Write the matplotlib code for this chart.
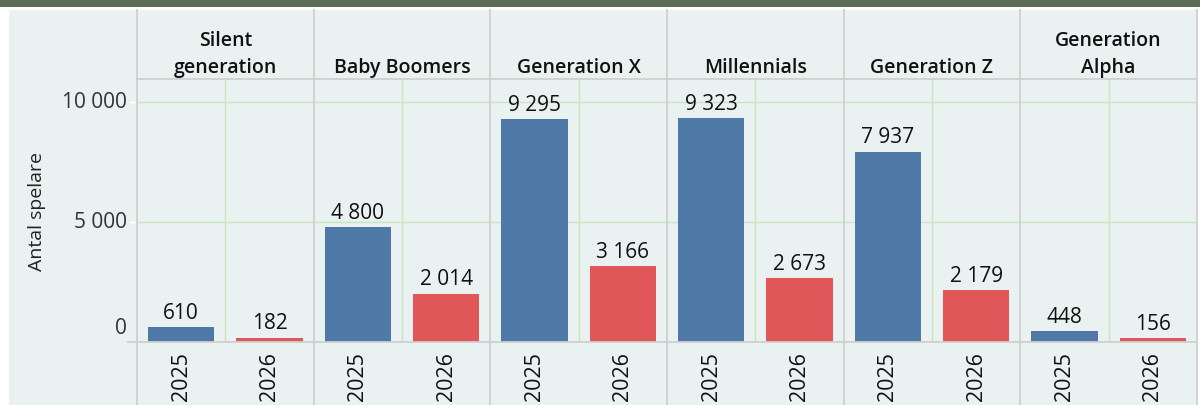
import matplotlib
matplotlib.use('Agg')
import matplotlib.pyplot as plt
from matplotlib.lines import Line2D
from matplotlib.patches import Rectangle

generations = ['Silent\ngeneration', 'Baby Boomers', 'Generation X', 'Millennials', 'Generation Z', 'Generation\nAlpha']
years = ['2025', '2026']
players_2025 = [610, 4800, 9295, 9323, 7937, 448]
players_2026 = [182, 2014, 3166, 2673, 2179, 156]
y_ticks = [0, 5000, 10000]

BLUE = '#4e79a7'
RED = '#e15759'
BG = '#e9f2f0'
GRID = '#c8e6c2'
BORDER = '#cfcfcf'
TOP = '#5b6b56'

plt.rcParams['font.family'] = ['Open Sans', 'DejaVu Sans']

W, H = 1200, 406
fig = plt.figure(figsize=(W / 100, H / 100), dpi=100)
fig.patch.set_facecolor('white')


def fx(px):
    return px / W


def fy(py):
    return 1 - py / H


# top band and background
fig.add_artist(Rectangle((0, fy(8)), 1, fy(0) - fy(8), transform=fig.transFigure,
                         color=TOP, lw=0, zorder=-10))
fig.add_artist(Rectangle((fx(9), 0), fx(1197) - fx(9), fy(11), transform=fig.transFigure,
                         color=BG, lw=0, zorder=-10))

left, right = 137, 1197
top, zero = 80, 343
ax = fig.add_axes([fx(left), fy(zero), fx(right) - fx(left), fy(top) - fy(zero)])
ax.set_facecolor('none')
ax.set_zorder(1)

n = len(generations)
x25 = [2 * i for i in range(n)]
x26 = [2 * i + 1 for i in range(n)]
ymax = 10958
ax.set_xlim(-0.5, 2 * n - 0.5)
ax.set_ylim(0, ymax)

for y in y_ticks[1:]:
    ax.axhline(y, color=GRID, lw=1, zorder=0)
for i in range(n):
    ax.axvline(2 * i + 0.5, color=GRID, lw=1, zorder=0)

ax.bar(x25, players_2025, width=0.75, color=BLUE, zorder=2)
ax.bar(x26, players_2026, width=0.75, color=RED, zorder=2)


def fmt(v):
    return f'{v:,}'.replace(',', ' ')


for xs, vals in [(x25, players_2025), (x26, players_2026)]:
    for x, v in zip(xs, vals):
        ax.annotate(fmt(v), (x, v), xytext=(0, 3), textcoords='offset points',
                    ha='center', va='bottom', fontsize=15, color='#111111', zorder=3)

for s in ax.spines.values():
    s.set_visible(False)
ax.set_xticks([])
ax.set_yticks([])

# y tick labels
for v in y_ticks:
    py = zero - (zero - top) * v / ymax
    if v == 0:
        py -= 14
    fig.text(fx(127), fy(py), fmt(v), ha='right', va='center', fontsize=15, color='#333333')
    if v > 0:
        fig.add_artist(Line2D([fx(130), fx(137)], [fy(zero - (zero - top) * v / ymax)] * 2,
                              transform=fig.transFigure, color='white', lw=1))

fig.text(fx(37), fy((top + zero) / 2), 'Antal spelare', rotation=90, ha='center', va='center',
         fontsize=14, color='#222222')

# panel borders
cell = (right - left) / (2 * n)
for i in range(n + 1):
    px = left + 2 * i * cell
    fig.add_artist(Line2D([fx(px), fx(px)], [fy(11), 0], transform=fig.transFigure,
                          color=BORDER, lw=1.3))
fig.add_artist(Line2D([fx(left), fx(right)], [fy(top), fy(top)], transform=fig.transFigure,
                      color=BORDER, lw=1.3))
fig.add_artist(Line2D([fx(128), fx(right)], [fy(zero), fy(zero)], transform=fig.transFigure,
                      color=BORDER, lw=1.3, zorder=3))

# headers
for i, g in enumerate(generations):
    cx = left + (2 * i + 1) * cell
    fig.text(fx(cx), fy(73), g, ha='center', va='baseline', fontsize=14, fontweight='semibold',
             color='#111111', linespacing=1.5)

# year labels
for i in range(2 * n):
    cx = left + (i + 0.5) * cell
    fig.text(fx(cx), fy(352), years[i % 2], rotation=90, ha='center', va='top', fontsize=15.5,
             color='#111111')

fig.savefig('out.png', dpi=100, facecolor=fig.get_facecolor())
